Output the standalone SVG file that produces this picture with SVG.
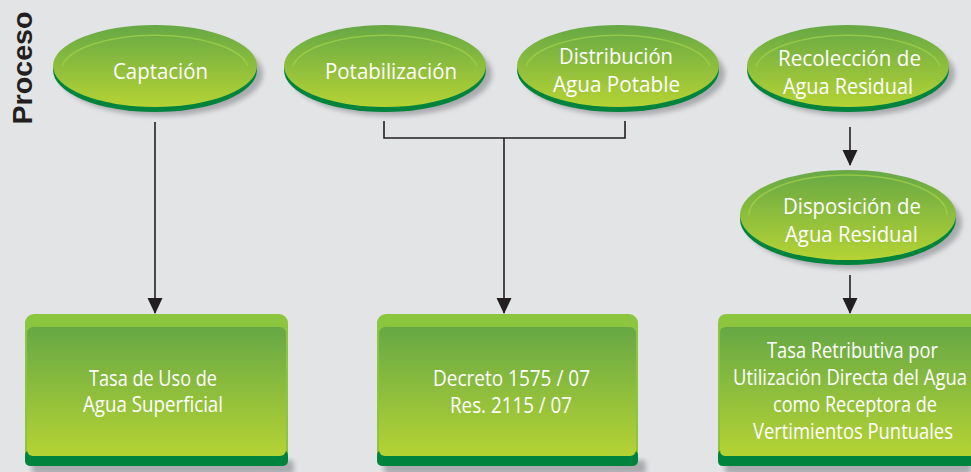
<svg xmlns="http://www.w3.org/2000/svg" width="971" height="472" viewBox="0 0 971 472">
<style>
.t{font-family:"Open Sans","Liberation Sans",sans-serif;fill:#ffffff;text-anchor:middle}
.e{font-size:22px}
.r{font-size:21px}
.s{font-size:16px}
.ln{fill:none;stroke:#231f20;stroke-width:1.6}
.rim{fill:#00843d}
.hl{fill:none;stroke:#9fd04a;stroke-width:1.5;opacity:0.8}
.sh{fill:#a9abae;filter:url(#blur)}
</style>
<defs>
<linearGradient id="eg" x1="0" y1="0" x2="0" y2="1">
<stop offset="0" stop-color="#66a845"/>
<stop offset="1" stop-color="#b5d334"/>
</linearGradient>
<linearGradient id="rg" x1="0" y1="0" x2="0" y2="1">
<stop offset="0" stop-color="#66a845"/>
<stop offset="1" stop-color="#b5d334"/>
</linearGradient>
<filter id="blur" x="-20%" y="-20%" width="140%" height="140%"><feGaussianBlur stdDeviation="2.5"/></filter>
<marker id="ar" markerWidth="16" markerHeight="18" refX="15" refY="7.5" orient="auto" markerUnits="userSpaceOnUse">
<path d="M0,0 L16,7.5 L0,15 Z" fill="#231f20"/>
</marker>
</defs>
<rect width="971" height="472" fill="#e3e4e6"/>
<text x="32" y="68" transform="rotate(-90 32 68)" font-family="Liberation Sans, Arial, sans-serif" font-weight="bold" font-size="28" fill="#231f20" text-anchor="middle" textLength="113" lengthAdjust="spacingAndGlyphs">Proceso</text>

<g id="connectors">
<line class="ln" x1="155" y1="122" x2="155" y2="313" marker-end="url(#ar)"/>
<polyline class="ln" points="384,121 384,138 625,138 625,121"/>
<line class="ln" x1="504" y1="138" x2="504" y2="313" marker-end="url(#ar)"/>
<line class="ln" x1="850" y1="127" x2="850" y2="165" marker-end="url(#ar)"/>
<line class="ln" x1="850" y1="275" x2="850" y2="313" marker-end="url(#ar)"/>
</g>

<g id="n-captacion">
<ellipse class="sh" cx="161" cy="74" rx="102" ry="42"/>
<ellipse class="rim" cx="155" cy="70" rx="102" ry="42"/>
<ellipse cx="155" cy="66" rx="102" ry="41" fill="url(#eg)"/>
<path class="hl" d="M62,66 A94,36 0 0 1 248,66"/>
<text class="t e" x="160.5" y="79" textLength="95" lengthAdjust="spacingAndGlyphs">Captación</text>
</g>

<g id="n-potabilizacion">
<ellipse class="sh" cx="391" cy="74" rx="101" ry="42"/>
<ellipse class="rim" cx="385" cy="70" rx="101" ry="42"/>
<ellipse cx="385" cy="66" rx="101" ry="41" fill="url(#eg)"/>
<path class="hl" d="M293,66 A93,36 0 0 1 477,66"/>
<text class="t e" x="391" y="79" textLength="132" lengthAdjust="spacingAndGlyphs">Potabilización</text>
</g>

<g id="n-distribucion">
<ellipse class="sh" cx="624" cy="74" rx="101" ry="42"/>
<ellipse class="rim" cx="618" cy="70" rx="101" ry="42"/>
<ellipse cx="618" cy="66" rx="101" ry="41" fill="url(#eg)"/>
<path class="hl" d="M526,66 A93,36 0 0 1 710,66"/>
<text class="t e" x="616" y="64" textLength="114" lengthAdjust="spacingAndGlyphs">Distribución</text>
<text class="t e" x="616.5" y="92" textLength="127" lengthAdjust="spacingAndGlyphs">Agua Potable</text>
</g>

<g id="n-recoleccion">
<ellipse class="sh" cx="854" cy="74" rx="101" ry="42"/>
<ellipse class="rim" cx="848" cy="70" rx="101" ry="42"/>
<ellipse cx="848" cy="66" rx="101" ry="41" fill="url(#eg)"/>
<path class="hl" d="M756,66 A93,36 0 0 1 940,66"/>
<text class="t e" x="849.5" y="66" textLength="143" lengthAdjust="spacingAndGlyphs">Recolección de</text>
<text class="t e" x="848" y="94" textLength="130" lengthAdjust="spacingAndGlyphs">Agua Residual</text>
</g>

<g id="n-disposicion">
<ellipse class="sh" cx="854" cy="223" rx="108" ry="46"/>
<ellipse class="rim" cx="848" cy="219" rx="108" ry="46"/>
<ellipse cx="848" cy="215" rx="108" ry="45" fill="url(#eg)"/>
<path class="hl" d="M749,215 A99,40 0 0 1 947,215"/>
<text class="t e" x="852" y="214" textLength="138" lengthAdjust="spacingAndGlyphs">Disposición de</text>
<text class="t e" x="851.5" y="242" textLength="133" lengthAdjust="spacingAndGlyphs">Agua Residual</text>
</g>

<g id="n-tasa-uso">
<rect x="32" y="460" width="262" height="14" rx="4" class="sh"/>
<rect x="25" y="314" width="263" height="152" rx="9" fill="#8cc63f"/>
<rect x="25" y="450" width="263" height="16" rx="5" class="rim"/>
<rect x="27" y="327" width="259" height="129" rx="6" fill="url(#rg)"/>
<text class="t r" x="153" y="386" textLength="128" lengthAdjust="spacingAndGlyphs">Tasa de Uso de</text>
<text class="t r" x="153" y="412" textLength="140" lengthAdjust="spacingAndGlyphs">Agua Superficial</text>
</g>

<g id="n-decreto">
<rect x="384" y="460" width="262" height="14" rx="4" class="sh"/>
<rect x="377" y="314" width="261" height="152" rx="9" fill="#8cc63f"/>
<rect x="377" y="450" width="261" height="16" rx="5" class="rim"/>
<rect x="379" y="327" width="257" height="129" rx="6" fill="url(#rg)"/>
<text class="t r" x="511.5" y="386" textLength="157" lengthAdjust="spacingAndGlyphs">Decreto 1575 / 07</text>
<text class="t r" x="511" y="413" textLength="122" lengthAdjust="spacingAndGlyphs">Res. 2115 / 07</text>
</g>

<g id="n-tasa-retributiva">
<path class="sh" d="M729,460 H971 V474 H729 Q725,474 725,470 V464 Q725,460 729,460 Z"/>
<path d="M727,314 H971 V466 H727 Q718,466 718,457 V323 Q718,314 727,314 Z" fill="#8cc63f"/>
<path class="rim" d="M723,450 H971 V466 H723 Q718,466 718,461 V455 Q718,450 723,450 Z"/>
<path d="M726,327 H971 V456 H726 Q720,456 720,450 V333 Q720,327 726,327 Z" fill="url(#rg)"/>
<g transform="translate(0,358) scale(1,1.33)"><text class="t s" x="852.5" y="0" textLength="171" lengthAdjust="spacingAndGlyphs">Tasa Retributiva por</text></g>
<g transform="translate(0,385) scale(1,1.33)"><text class="t s" x="850" y="0" textLength="234" lengthAdjust="spacingAndGlyphs">Utilización Directa del Agua</text></g>
<g transform="translate(0,412) scale(1,1.33)"><text class="t s" x="855" y="0" textLength="164" lengthAdjust="spacingAndGlyphs">como Receptora de</text></g>
<g transform="translate(0,439) scale(1,1.33)"><text class="t s" x="853" y="0" textLength="200" lengthAdjust="spacingAndGlyphs">Vertimientos Puntuales</text></g>
</g>
</svg>
